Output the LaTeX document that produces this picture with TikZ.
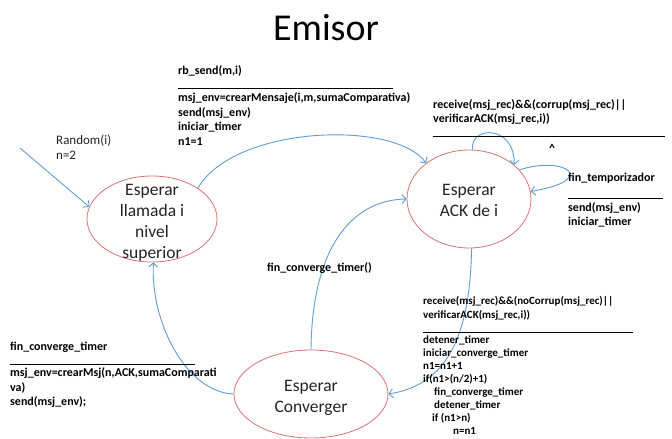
\documentclass[tikz,border=0pt]{standalone}
\usepackage{fontspec}
\setmainfont{Carlito}
\usetikzlibrary{shapes.geometric,arrows.meta}
\definecolor{edgeblue}{RGB}{96,155,210}
\definecolor{statered}{RGB}{214,114,114}
\definecolor{txt}{RGB}{35,35,35}
\begin{document}
\begin{tikzpicture}[x=1pt,y=-1pt,
  state/.style={draw=statered, line width=0.8pt, ellipse, inner sep=0pt},
  stxt/.style={font=\fontsize{17.5}{21}\selectfont, align=center, text=txt, inner sep=0pt},
  lbl/.style={font=\bfseries\fontsize{12}{14.5}\selectfont, align=left, inner sep=0pt, text=black, anchor=north west},
  lblr/.style={font=\fontsize{13}{15}\selectfont, align=left, inner sep=0pt, text=txt, anchor=north west},
  rulel/.style={draw=black, line width=0.6pt},
  conn/.style={draw=edgeblue, line width=0.9pt, -{Straight Barb[length=4pt,width=9pt]}}]
\useasboundingbox (0,0) rectangle (672,439);

% title
\node[font=\fontsize{38}{44}\selectfont, text=black, inner sep=0pt] (title) at (326,28) {Emisor};

% states
\node[state, minimum width=130pt, minimum height=86pt] (e1) at (152,219) {};
\node[stxt] (e1t) at (152,223) {Esperar\\llamada i\\nivel\\superior};
\node[state, minimum width=124pt, minimum height=98pt] (e2) at (469,199) {};
\node[stxt] (e2t) at (469,200) {Esperar\\ACK de i};
\node[state, minimum width=154pt, minimum height=88pt] (e3) at (311,394) {};
\node[stxt] (e3t) at (311,398) {Esperar\\Converger};

% initial arrow
\coordinate (rstart) at (20,148);
\node[lblr] (rlab) at (56,134) {\strut Random(i)\\n=2};
\draw[conn] (rstart) -- (e1.169);

% e1 -> e2
\draw[conn] (e1.34) .. controls (235,125) and (395,120) .. (e2.140);
\node[lbl] (la1) at (178,64.3) {\strut rb\_send(m,i)};
\draw[rulel] (178,88.5) -- (393,88.5);
\node[lbl] (la2) at (178,91.3) {\strut msj\_env=crearMensaje(i,m,sumaComparativa)\\send(msj\_env)\\iniciar\_timer\\n1=1};

% self loop on e2
\draw[conn] (e2.86) .. controls (470,125) and (515,125) .. (e2.37);
\node[lbl] (lb1) at (433,97.8) {\strut receive(msj\_rec)\&\&(corrup(msj\_rec)\textbar\textbar\\verificarACK(msj\_rec,i))};
\draw[rulel] (433,136.5) -- (665,136.5);
\node[font=\bfseries\fontsize{12}{14.5}\selectfont, inner sep=0pt, anchor=base] (caret) at (552,152) {\textasciicircum};

% fin_temporizador loop
\draw[conn] (e2.30) .. controls (565,155) and (600,180) .. (e2.7);
\node[lbl] (lc1) at (568,171.3) {\strut fin\_temporizador};
\draw[rulel] (568,198.5) -- (663,198.5);
\node[lbl, font=\bfseries\fontsize{12}{14}\selectfont] (lc2) at (568,201.2) {\strut send(msj\_env)\\iniciar\_timer};

% e2 -> e3
\draw[conn] (e2.273) .. controls (470,340) and (445,385) .. (e3.east);
\node[lbl, font=\bfseries\fontsize{11}{13.5}\selectfont] (le1) at (423,295) {\strut receive(msj\_rec)\&\&(noCorrup(msj\_rec)\textbar\textbar\\verificarACK(msj\_rec,i))};
\draw[rulel] (423,332) -- (633,332);
\node[lbl, font=\bfseries\fontsize{11}{13}\selectfont] (le2) at (423,334.4) {\strut detener\_timer\\iniciar\_converge\_timer\\n1=n1+1\\if(n1>(n/2)+1)\\\hspace*{11pt}fin\_converge\_timer\\\hspace*{11pt}detener\_timer\\\hspace*{9pt}if (n1>n)\\\hspace*{30pt}n=n1};

% e3 -> e2
\draw[conn] (e3.north) .. controls (312,250) and (350,200) .. (e2.west);
\node[font=\bfseries\fontsize{12}{14.5}\selectfont, inner sep=0pt, anchor=base west] (lf) at (267,271.5) {fin\_converge\_timer()};

% e3 -> e1
\draw[conn] (e3.west) .. controls (185,392) and (150,320) .. (e1.272);
\node[lbl] (ld1) at (10,339.8) {\strut fin\_converge\_timer};
\draw[rulel] (10,364) -- (195,364);
\node[lbl] (ld2) at (10,366.3) {\strut msj\_env=crearMsj(n,ACK,sumaComparati\\va)\\send(msj\_env);};
\end{tikzpicture}
\end{document}
